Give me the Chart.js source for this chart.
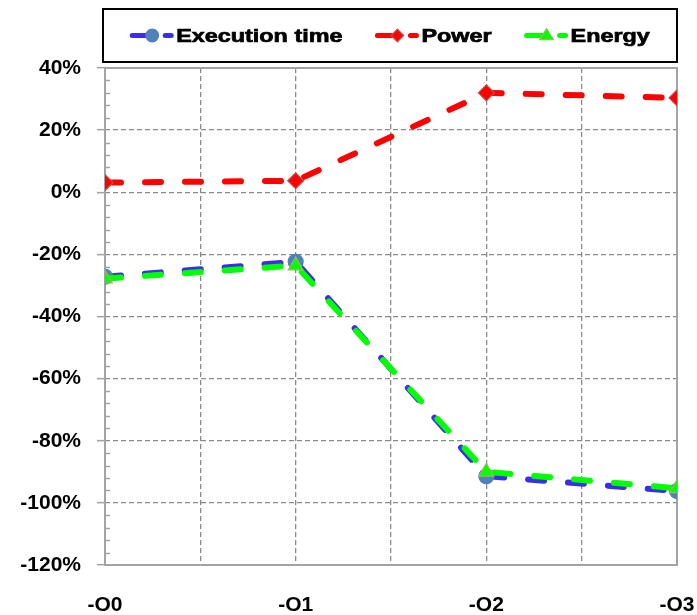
<!DOCTYPE html>
<html>
<head>
<meta charset="utf-8">
<script src="https://cdn.jsdelivr.net/npm/chart.js@4/dist/chart.umd.min.js"></script>
<style>
  html, body { margin: 0; padding: 0; background: #ffffff; }
  #wrap { width: 697px; height: 615px; }
</style>
</head>
<body>
<div id="wrap"><canvas id="c" width="697" height="615"></canvas></div>
<script>
// Optimisation levels and relative change (%) of each metric
const levels = ['-O0', '-O1', '-O2', '-O3'];
const executionTime = [-27.2, -22.4, -91.4, -96.2];
const power = [3.1, 3.7, 32.0, 30.4];
const energy = [-27.8, -23.6, -90.0, -95.3];
const yTicks = [-120, -100, -80, -60, -40, -20, 0, 20, 40];

// Levels sit on every second grid column (half-step grid in between)
const toPoints = vals => vals.map((v, i) => ({ x: i * 2, y: v }));

const GRID = '#8a8a8a';
const AXIS = '#a3a3a3';
const FONT = "'Liberation Sans', Arial, sans-serif";
const GRID_DASH = [5, 3];

// Small ticks every 4% just inside the value axis
const minorTicks = {
  id: 'minorTicks',
  beforeDatasetsDraw(chart) {
    const y = chart.scales.y, ctx = chart.ctx, left = chart.chartArea.left;
    ctx.save();
    ctx.strokeStyle = AXIS;
    ctx.lineWidth = 1.5;
    for (let v = yTicks[0]; v <= yTicks[yTicks.length - 1]; v += 4) {
      if (v % 20 === 0) continue;
      const py = Math.round(y.getPixelForValue(v)) + 0.5;
      ctx.beginPath();
      ctx.moveTo(left, py);
      ctx.lineTo(left + 5, py);
      ctx.stroke();
    }
    ctx.restore();
  }
};

// Solid frame around the plot area (left side is the value axis)
const plotFrame = {
  id: 'plotFrame',
  beforeDatasetsDraw(chart) {
    const { left, right, top, bottom } = chart.chartArea;
    const ctx = chart.ctx;
    ctx.save();
    ctx.strokeStyle = AXIS;
    ctx.lineWidth = 2;
    ctx.setLineDash([]);
    ctx.beginPath();
    ctx.moveTo(left, top);
    ctx.lineTo(right, top);
    ctx.lineTo(right, bottom);
    ctx.lineTo(left, bottom);
    ctx.closePath();
    ctx.stroke();
    ctx.restore();
  }
};

function drawMarker(ctx, ds, x, y, r) {
  ctx.save();
  ctx.fillStyle = ds.pointBackgroundColor;
  ctx.strokeStyle = ds.pointBorderColor;
  ctx.lineWidth = 1.2;
  ctx.setLineDash([]);
  ctx.beginPath();
  if (ds.pointStyle === 'circle') {
    ctx.arc(x, y, r, 0, Math.PI * 2);
  } else if (ds.pointStyle === 'rectRot') {
    ctx.moveTo(x, y - r); ctx.lineTo(x + r, y); ctx.lineTo(x, y + r); ctx.lineTo(x - r, y);
  } else {
    const h = r * 1.6;
    ctx.moveTo(x, y - h * 0.62); ctx.lineTo(x + r, y + h * 0.38); ctx.lineTo(x - r, y + h * 0.38);
  }
  ctx.closePath();
  ctx.fill();
  ctx.stroke();
  ctx.restore();
}

// Framed legend across the top, each entry shows a dashed line sample with its marker
const boxLegend = {
  id: 'boxLegend',
  afterDraw(chart) {
    const ctx = chart.ctx;
    const box = { l: 103, t: 9, r: 677, b: 62 };
    const stretch = 1.23, sampleW = 46, gap = 33;
    const cy = 35.5;
    ctx.save();
    ctx.strokeStyle = '#000000';
    ctx.lineWidth = 2;
    ctx.strokeRect(box.l, box.t, box.r - box.l, box.b - box.t);
    ctx.font = 'bold 19px ' + FONT;
    const items = chart.data.datasets.map(ds => ({ ds, w: ctx.measureText(ds.label).width * stretch }));
    const total = items.reduce((s, it) => s + sampleW + it.w, 0) + gap * (items.length - 1);
    let x = (box.l + box.r) / 2 - total / 2;
    items.forEach(it => {
      const ds = it.ds;
      ctx.strokeStyle = ds.borderColor;
      ctx.lineWidth = 5;
      ctx.lineCap = 'round';
      ctx.beginPath();
      ctx.moveTo(x + 2, cy); ctx.lineTo(x + 20, cy);
      ctx.moveTo(x + 35, cy); ctx.lineTo(x + 41, cy);
      ctx.stroke();
      drawMarker(ctx, ds, x + 22, cy, ds.pointStyle === 'triangle' ? 7 : 6.3);
      ctx.save();
      ctx.translate(x + sampleW, cy);
      ctx.scale(stretch, 1);
      ctx.fillStyle = '#000000';
      ctx.strokeStyle = '#000000';
      ctx.lineWidth = 0.7;
      ctx.textBaseline = 'middle';
      ctx.textAlign = 'left';
      ctx.fillText(ds.label, 0, 1);
      ctx.strokeText(ds.label, 0, 1);
      ctx.restore();
      x += sampleW + it.w + gap;
    });
    ctx.restore();
  }
};

const lineBase = {
  borderWidth: 6,
  borderDash: [16, 24],
  borderCapStyle: 'round',
  borderJoinStyle: 'round',
  fill: false,
  tension: 0,
  pointBorderWidth: 1.2,
  pointHoverRadius: 8
};

new Chart(document.getElementById('c'), {
  type: 'line',
  data: {
    datasets: [
      Object.assign({}, lineBase, {
        label: 'Execution time',
        data: toPoints(executionTime),
        borderColor: '#3B2EEA',
        pointStyle: 'circle',
        pointRadius: 7.5,
        pointBackgroundColor: '#4F81BD',
        pointBorderColor: '#4F81BD',
        order: 3
      }),
      Object.assign({}, lineBase, {
        label: 'Power',
        data: toPoints(power),
        borderColor: '#FF0000',
        pointStyle: 'rectRot',
        pointRadius: 8,
        pointBackgroundColor: '#FF0000',
        pointBorderColor: '#C0504D',
        order: 2
      }),
      Object.assign({}, lineBase, {
        label: 'Energy',
        data: toPoints(energy),
        borderColor: '#00FF00',
        pointStyle: 'triangle',
        pointRadius: 8.5,
        pointBackgroundColor: '#00FF00',
        pointBorderColor: '#9BBB59',
        order: 1
      })
    ]
  },
  options: {
    responsive: false,
    animation: false,
    layout: { padding: { top: 68, right: 20, left: 0, bottom: 0 } },
    plugins: {
      legend: { display: false },
      tooltip: { enabled: false }
    },
    scales: {
      x: {
        type: 'linear',
        min: 0,
        max: (levels.length - 1) * 2,
        afterFit(scale) {
          scale.height = 50;
          scale.paddingLeft = 0;
          scale.paddingRight = 0;
        },
        border: { display: false, dash: GRID_DASH },
        grid: {
          drawTicks: false,
          color: ctx => (ctx.tick && (ctx.tick.value === 0 || ctx.tick.value === (levels.length - 1) * 2)) ? 'rgba(0,0,0,0)' : GRID,
          lineWidth: 1.3
        },
        ticks: {
          stepSize: 1,
          padding: 28,
          maxRotation: 0,
          autoSkip: false,
          color: '#000000',
          font: { family: FONT, size: 21, weight: 'bold' },
          callback: v => (v % 2 === 0 ? levels[v / 2] : '')
        }
      },
      y: {
        min: yTicks[0],
        max: yTicks[yTicks.length - 1],
        afterFit(scale) { scale.width = 105; },
        afterBuildTicks(scale) { scale.ticks = yTicks.map(v => ({ value: v })); },
        border: { display: false, dash: GRID_DASH },
        grid: {
          color: ctx => (ctx.tick && (ctx.tick.value === yTicks[0] || ctx.tick.value === yTicks[yTicks.length - 1])) ? 'rgba(0,0,0,0)' : GRID,
          lineWidth: 1.3,
          tickLength: 8,
          tickColor: AXIS,
          tickWidth: 1.5,
          tickBorderDash: []
        },
        ticks: {
          padding: 16,
          color: '#000000',
          font: { family: FONT, size: 21, weight: 'bold' },
          callback: v => v + '%'
        }
      }
    }
  },
  plugins: [minorTicks, plotFrame, boxLegend]
});
</script>
</body>
</html>
